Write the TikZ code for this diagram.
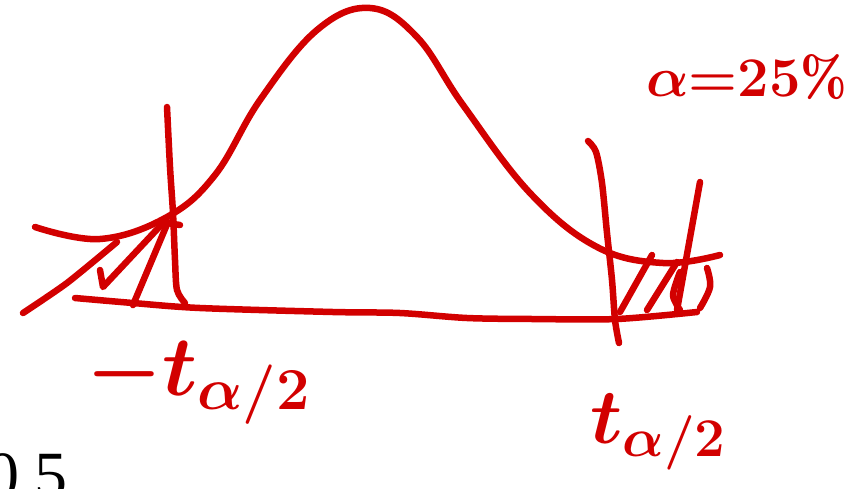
\documentclass[tikz,border=0pt]{standalone}
\usepackage{fix-cm}
\usepackage{fontspec}
\newfontfamily\numfont{Liberation Serif}
\definecolor{ink}{RGB}{210,0,0}
\newcommand\fontA{\fontsize{56}{60}\selectfont\boldmath}
\newcommand\fontB{\fontsize{85}{90}\selectfont\boldmath}
\newcommand\fontC{\fontsize{78}{82}\selectfont\boldmath}
\newcommand\fontD{\fontsize{66}{70}\selectfont\numfont}
\begin{document}
\begin{tikzpicture}[x=1pt,y=-1pt,
  pen/.style={draw=ink,line width=6.5pt,line cap=round,line join=round},
  lbl/.style={text=ink,inner sep=0pt,anchor=base west}]
\useasboundingbox (0,0) rectangle (866,488);
\draw[pen] plot[smooth,tension=0.65] coordinates {(35,227) (100,239) (167,217) (215,175) (260,100) (317,30) (370,8) (417,37) (463,105) (530,193) (597,247) (663,263) (720,255)};
\draw[pen] plot[smooth,tension=0.5] coordinates {(75,298) (133,303) (200,308) (333,312) (400,313) (467,318) (533,319) (617,319) (697,312)};
\draw[pen] plot[smooth,tension=0.5] coordinates {(167,107) (170,167) (173,213) (175,260) (177,290) (185,303)};
\draw[pen] plot[smooth,tension=0.5] coordinates {(588,141) (596,152) (602,183) (607,233) (612,280) (615,320) (619,343)};
\draw[pen] plot[smooth,tension=0.4] coordinates {(23,313) (67,283) (117,242)};
\draw[pen] (100,270) -- (103,287) -- (163,223);
\draw[pen] (133,305) -- (168,222);
\draw[pen] (167,223) -- (180,225);
\draw[pen] (620,312) -- (652,255);
\draw[pen] (647,310) -- (677,262);
\draw[pen] plot[smooth,tension=0.5] coordinates {(680,272) (673,295) (680,310)};
\draw[pen] (700,182) -- (677,310);
\draw[pen] plot[smooth,tension=0.6] coordinates {(707,268) (710,287) (700,308)};
\node[lbl,font=\fontA] (labA) at (646,96) {$\alpha{=}25\%$};
\node[lbl,font=\fontB] (labB) at (86,395) {$-t_{\alpha/2}$};
\node[lbl,font=\fontC] (labC) at (590,443) {$t_{\alpha/2}$};
\node[inner sep=0pt,anchor=base west,font=\fontD] (labD) at (-14,497) {0\kern15pt5};
\end{tikzpicture}
\end{document}
